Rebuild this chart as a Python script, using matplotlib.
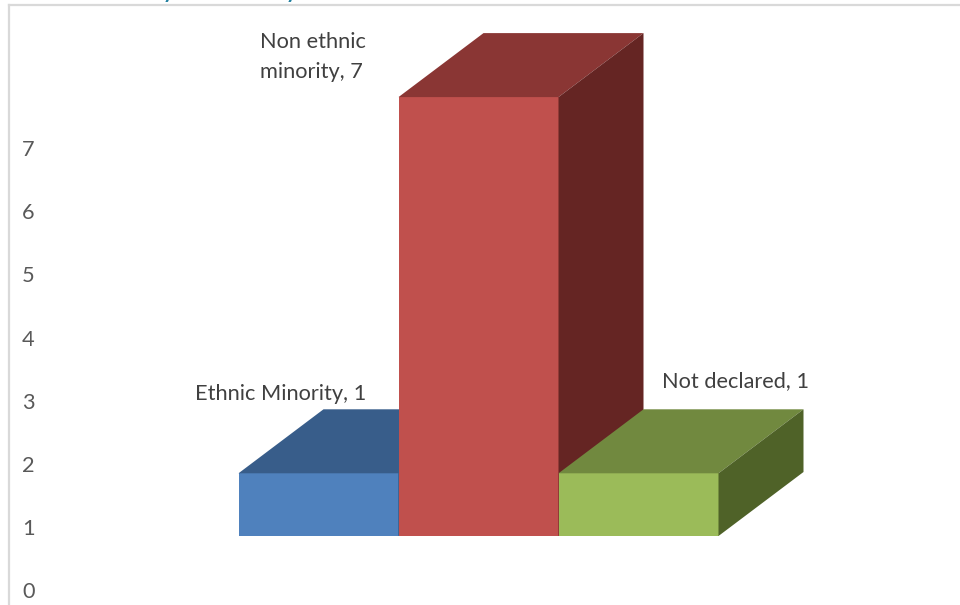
import matplotlib
matplotlib.use('Agg')
import matplotlib.pyplot as plt
import numpy as np

plt.rcParams['font.family'] = ['Lato', 'DejaVu Sans']

categories = ['Ethnic Minority', 'Non ethnic\nminority', 'Not declared']
values = [1, 7, 1]
front_cols = ['#4F81BD', '#C0504D', '#9BBB59']
top_cols = ['#385D8A', '#8A3634', '#71893F']
side_cols = ['#2C4A6E', '#652523', '#4F6228']
ticks = [0, 1, 2, 3, 4, 5, 6, 7]

px_cat = 160.0   # pixels for one category
px_val = 62.7    # pixels for one unit
base_px = 536
depth_x = 85 / px_cat
depth_y = 64 / px_val
tick_ofs = -(590 - base_px) / px_val
tick_scale = 63.1 / px_val

fig = plt.figure(figsize=(9.6, 6.05), dpi=100)
ax = fig.add_axes([0, 0, 1, 1])
ax.set_xlim(-318.5 / px_cat, (960 - 318.5) / px_cat)
ax.set_ylim(-(605 - base_px) / px_val, base_px / px_val)

def draw_bar(i, v):
    l = i - 0.5
    r = i + 0.5
    ax.fill([l, r, r, l], [0, 0, v, v], color=front_cols[i], lw=0, zorder=3 + i)
    ax.fill([l, r, r + depth_x, l + depth_x], [v, v, v + depth_y, v + depth_y], color=top_cols[i], lw=0, zorder=3 + i)
    ax.fill([r, r + depth_x, r + depth_x, r], [0, depth_y, v + depth_y, v], color=side_cols[i], lw=0, zorder=3 + i)

for i, v in enumerate(values):
    draw_bar(i, v)

ax.set_yticks([t * tick_scale + tick_ofs for t in ticks])
ax.set_yticklabels([str(t) for t in ticks], fontsize=15.7, color='#595959')
ax.tick_params(axis='y', direction='in', pad=-25, length=0)
ax.set_xticks([])
for s in ['right', 'bottom', 'top', 'left']:
    ax.spines[s].set_visible(False)

# chart border
ax.plot([0.009, 0.009], [0, 0.992], transform=ax.transAxes, color='#D9D9D9', lw=1.6, clip_on=False)
ax.plot([0.009, 1], [0.992, 0.992], transform=ax.transAxes, color='#D9D9D9', lw=1.6, clip_on=False)

label_col = '#404040'
ax.text(0.297, 2.265, categories[0] + ', ' + str(values[0]), ha='right', va='center', fontsize=15.7, color=label_col)
ax.text(-0.366, 7.64, categories[1] + ', ' + str(values[1]), ha='left', va='center', fontsize=15.7, color=label_col, linespacing=1.6)
ax.text(2.15, 2.47, categories[2] + ', ' + str(values[2]), ha='left', va='center', fontsize=15.7, color=label_col)

# cropped title, only the tails of two letters show at the top edge
title_col = '#1F7F9F'
for x in [-0.94, -0.17]:
    ax.text(x, 8.58, 'y', ha='center', va='baseline', fontsize=15, fontweight='bold', color=title_col)

fig.savefig('out.png', dpi=100)
